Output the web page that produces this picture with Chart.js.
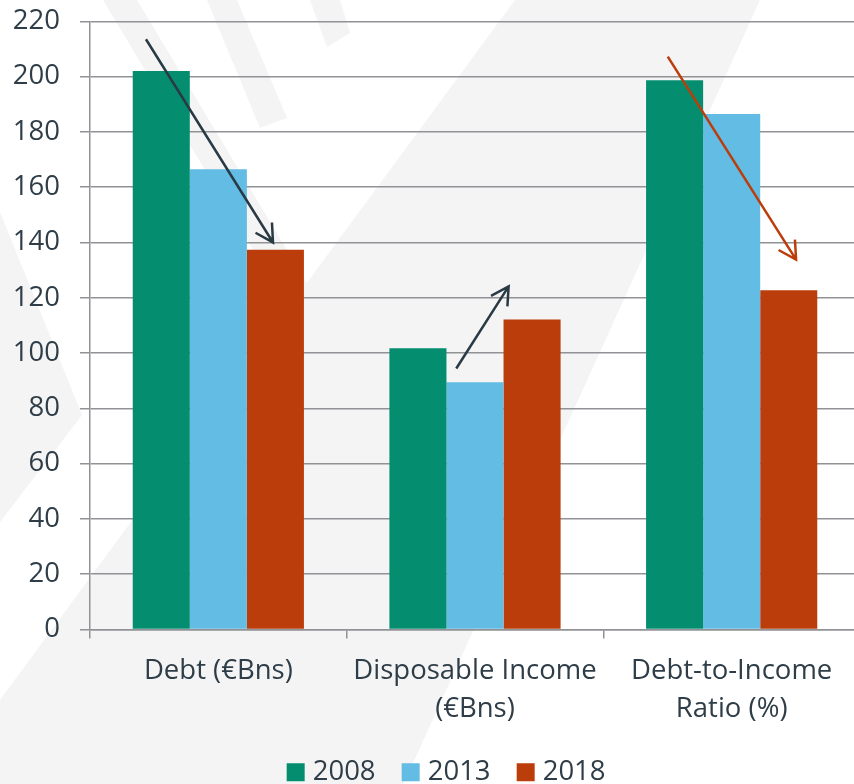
<!DOCTYPE html>
<html>
<head>
<meta charset="utf-8">
<script src="https://cdn.jsdelivr.net/npm/chart.js@4.4.1/dist/chart.umd.min.js"></script>
<style>
html,body{margin:0;padding:0;overflow:hidden;background:#fff;width:854px;height:784px;}
#wrap{position:absolute;left:0;top:0;width:860px;height:796px;}
</style>
</head>
<body>
<div id="wrap"><canvas id="c" width="860" height="796"></canvas></div>
<script>
// ---- data ----
const categories = ['Debt (€Bns)', ['Disposable Income', '(€Bns)'], ['Debt-to-Income', 'Ratio (%)']];
const seriesNames = ['2008', '2013', '2018'];
const values2008 = [202.0, 101.7, 198.7];
const values2013 = [166.5, 89.4, 186.5];
const values2018 = [137.4, 112.1, 122.7];
const yTicks = [0, 20, 40, 60, 80, 100, 120, 140, 160, 180, 200, 220];
// trend arrows in data space: [category position, value]
const arrowDebt = [[-0.282, 213.5], [0.213, 140.0]];
const arrowIncome = [[0.927, 94.4], [1.131, 124.1]];
const arrowRatio = [[1.751, 207.2], [2.251, 133.8]];

// ---- styles ----
const FONT = "'Open Sans', 'Noto Sans', sans-serif";
const TEXT = '#2E3D47';
const GRID = '#909295';
const COLORS = ['#048E6F', '#62BCE3', '#BB3D0B'];
const ARROW_DARK = '#2A3A45';

const bgPlugin = {
  id: 'bg',
  beforeDraw(chart) {
    const ctx = chart.ctx;
    ctx.save();
    ctx.fillStyle = '#ffffff';
    ctx.fillRect(0, 0, chart.width, chart.height);
    ctx.fillStyle = '#F4F4F4';
    const polys = [
      [[515, 0], [760, 0], [398, 796], [0, 796], [0, 700]],
      [[0, 212], [82, 415], [0, 522]],
      [[103, 0], [137, 0], [317, 300], [283, 300]],
      [[207, 0], [237, 0], [287, 118], [260, 128]],
      [[310, 0], [340, 0], [350, 33], [327, 47]]
    ];
    polys.forEach(p => {
      ctx.beginPath();
      ctx.moveTo(p[0][0], p[0][1]);
      for (let i = 1; i < p.length; i++) ctx.lineTo(p[i][0], p[i][1]);
      ctx.closePath();
      ctx.fill();
    });
    ctx.restore();
  }
};

// shift the legend row slightly right, as in the original layout
const legendShift = {
  id: 'legendShift',
  afterLayout(chart) {
    if (chart.legend) { chart.legend.left += 19; chart.legend.right += 19; }
  }
};

const arrowPlugin = {
  id: 'arrows',
  afterDatasetsDraw(chart) {
    const xs = chart.scales.x, ys = chart.scales.y;
    const c0 = xs.getPixelForValue(0), c1 = xs.getPixelForValue(1);
    const toPx = p => [c0 + p[0] * (c1 - c0), ys.getPixelForValue(p[1])];
    const ctx = chart.ctx;
    [[arrowDebt, ARROW_DARK], [arrowIncome, ARROW_DARK], [arrowRatio, COLORS[2]]].forEach(([a, col]) => {
      const [x1, y1] = toPx(a[0]);
      const [x2, y2] = toPx(a[1]);
      const ang = Math.atan2(y1 - y2, x1 - x2);
      const L = 20, h = 29 * Math.PI / 180;
      ctx.save();
      ctx.strokeStyle = col;
      ctx.lineWidth = 2.5;
      ctx.beginPath();
      ctx.moveTo(x1, y1);
      ctx.lineTo(x2, y2);
      ctx.moveTo(x2 + L * Math.cos(ang + h), y2 + L * Math.sin(ang + h));
      ctx.lineTo(x2, y2);
      ctx.lineTo(x2 + L * Math.cos(ang - h), y2 + L * Math.sin(ang - h));
      ctx.stroke();
      ctx.restore();
    });
  }
};

const seriesValues = [values2008, values2013, values2018];
new Chart(document.getElementById('c'), {
  type: 'bar',
  data: {
    labels: categories,
    datasets: seriesNames.map((n, i) => ({
      label: n,
      data: seriesValues[i],
      backgroundColor: COLORS[i],
      borderWidth: 0,
      barPercentage: 1.0,
      categoryPercentage: 0.667,
      pointStyle: 'rect'
    }))
  },
  options: {
    responsive: false,
    animation: false,
    devicePixelRatio: 1,
    layout: { padding: { left: 0, top: 21.3, right: 0, bottom: 0 } },
    plugins: {
      legend: {
        position: 'bottom',
        labels: {
          usePointStyle: true, pointStyle: 'rect',
          boxWidth: 6.5, boxHeight: 18, padding: 31.85,
          color: TEXT, font: { family: FONT, size: 27.5 }
        }
      },
      tooltip: { enabled: false }
    },
    scales: {
      x: {
        grid: { offset: true, drawOnChartArea: false, drawTicks: true, tickLength: 9, color: GRID, lineWidth: 1.5 },
        border: { display: true, color: GRID, width: 1.5 },
        ticks: { color: TEXT, font: { family: FONT, size: 27.5, lineHeight: 1.38 }, padding: 14, maxRotation: 0, autoSkip: false },
        afterFit: s => { s.height = 97.15; s.paddingLeft = 0; s.paddingRight = 0; }
      },
      y: {
        min: 0, max: 220,
        grid: { color: GRID, lineWidth: 1.5, tickLength: 10 },
        border: { display: true, color: GRID, width: 1.5 },
        ticks: { color: TEXT, font: { family: FONT, size: 27.5 }, padding: 20 },
        afterBuildTicks: s => { s.ticks = yTicks.map(v => ({ value: v })); },
        afterFit: s => { s.width = 90; s.paddingTop = 0; s.paddingBottom = 0; }
      }
    }
  },
  plugins: [bgPlugin, legendShift, arrowPlugin]
});
</script>
</body>
</html>
